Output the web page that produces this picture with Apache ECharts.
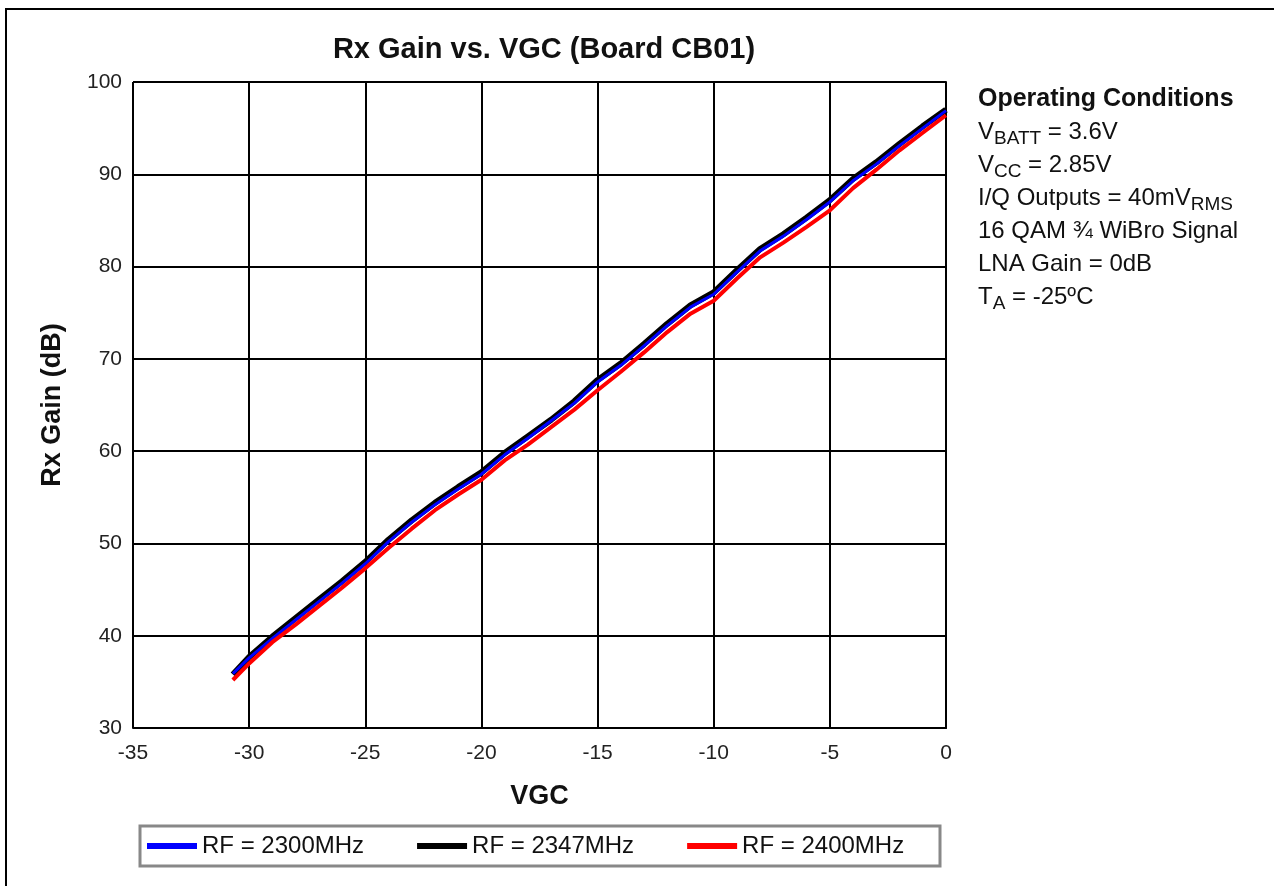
<!DOCTYPE html>
<html>
<head>
    <meta charset="utf-8">
    <title>Rx Gain vs. VGC</title>
    <script src="https://cdn.jsdelivr.net/npm/echarts@6/dist/echarts.min.js"></script>
    <style>
        html, body { margin: 0; padding: 0; background: #fff; }
        #main { width: 1274px; height: 886px; }
    </style>
</head>
<body>
<div id="main"></div>
<script>
    // VGC setting points
    var vgc = [-30.7, -30, -29, -28, -27, -26, -25, -24, -23, -22, -21, -20, -19, -18, -17, -16,
        -15, -14, -13, -12, -11, -10, -9, -8, -7, -6, -5, -4, -3, -2, -1, 0];

    // Rx gain (dB) per RF frequency
    var gain2300 = [35.9, 37.6, 39.7, 41.7, 43.7, 45.7, 47.8, 50.2, 52.3, 54.2, 55.9, 57.5, 59.6, 61.4,
        63.3, 65.2, 67.5, 69.3, 71.4, 73.6, 75.6, 77.0, 79.4, 81.7, 83.3, 85.1, 87.0, 89.3, 91.1, 93.1, 95.0, 96.9];
    var gain2347 = [35.8, 37.7, 39.9, 41.9, 43.9, 45.9, 48.0, 50.4, 52.5, 54.4, 56.1, 57.7, 59.8, 61.6,
        63.4, 65.4, 67.7, 69.5, 71.6, 73.8, 75.8, 77.2, 79.6, 81.9, 83.5, 85.3, 87.2, 89.5, 91.3, 93.3, 95.2, 97.0];
    var gain2400 = [35.2, 37.0, 39.3, 41.2, 43.2, 45.2, 47.3, 49.5, 51.6, 53.6, 55.3, 56.9, 59.0, 60.7,
        62.6, 64.5, 66.6, 68.6, 70.7, 72.9, 74.9, 76.3, 78.7, 81.0, 82.6, 84.3, 86.1, 88.5, 90.5, 92.6, 94.5, 96.4];

    var seriesNames = ['RF = 2300MHz', 'RF = 2347MHz', 'RF = 2400MHz'];
    var seriesColors = ['#0000ff', '#000000', '#ff0000'];

    var FONT = '"Liberation Sans", Arial, sans-serif';

    function pairs(ys) {
        return vgc.map(function (x, i) { return [x, ys[i]]; });
    }

    var chart = echarts.init(document.getElementById('main'));

    var condRich = {
        b: { fontFamily: FONT, fontSize: 25, fontWeight: 'bold', color: '#111' },
        n: { fontFamily: FONT, fontSize: 24, color: '#111' },
        s: { fontFamily: FONT, fontSize: 19, color: '#111', padding: [13, 0, 0, 0] }
    };

    var option = {
        backgroundColor: '#fff',
        animation: false,
        title: {
            text: 'Rx Gain vs. VGC (Board CB01)',
            left: 539,
            textAlign: 'center',
            top: 30,
            textStyle: { fontFamily: FONT, fontSize: 29, fontWeight: 'bold', color: '#111' }
        },
        grid: { left: 133, right: 328, top: 82, bottom: 158, containLabel: false },
        legend: {
            data: seriesNames,
            left: 147,
            top: 834,
            padding: 0,
            icon: 'rect',
            itemWidth: 50,
            itemHeight: 6,
            itemGap: 53,
            textStyle: { fontFamily: FONT, fontSize: 24, color: '#111' }
        },
        xAxis: {
            type: 'value',
            min: -35,
            max: 0,
            interval: 5,
            name: 'VGC',
            nameLocation: 'middle',
            nameGap: 55,
            nameTextStyle: { fontFamily: FONT, fontSize: 27, fontWeight: 'bold', color: '#111' },
            axisLine: { show: true, lineStyle: { color: '#000', width: 2 } },
            axisTick: { show: false },
            axisLabel: { fontFamily: FONT, fontSize: 21, color: '#222', margin: 15 },
            splitLine: { show: true, lineStyle: { color: '#000', width: 2 } }
        },
        yAxis: {
            type: 'value',
            min: 30,
            max: 100,
            interval: 10,
            name: 'Rx Gain (dB)',
            nameLocation: 'middle',
            nameGap: 67,
            nameTextStyle: { fontFamily: FONT, fontSize: 27, fontWeight: 'bold', color: '#111' },
            axisLine: { show: true, lineStyle: { color: '#000', width: 2 } },
            axisTick: { show: false },
            axisLabel: { fontFamily: FONT, fontSize: 21, color: '#222', margin: 11 },
            splitLine: { show: true, lineStyle: { color: '#000', width: 2 } }
        },
        series: [
            {
                name: seriesNames[1], type: 'line', data: pairs(gain2347), showSymbol: false,
                lineStyle: { color: seriesColors[1], width: 6 }, itemStyle: { color: seriesColors[1] }, z: 2
            },
            {
                name: seriesNames[0], type: 'line', data: pairs(gain2300), showSymbol: false,
                lineStyle: { color: seriesColors[0], width: 3 }, itemStyle: { color: seriesColors[0] }, z: 3
            },
            {
                name: seriesNames[2], type: 'line', data: pairs(gain2400), showSymbol: false,
                lineStyle: { color: seriesColors[2], width: 4 }, itemStyle: { color: seriesColors[2] }, z: 4
            }
        ],
        graphic: [
            {
                type: 'polyline',
                shape: { points: [[6, 886], [6, 9], [1274, 9]] },
                style: { stroke: '#000', lineWidth: 2, fill: null },
                silent: true
            },
            {
                type: 'rect',
                shape: { x: 140, y: 826, width: 800, height: 40 },
                style: { stroke: '#888', lineWidth: 3, fill: null },
                silent: true
            },
            {
                type: 'text',
                left: 978,
                top: 83,
                style: {
                    text: [
                        '{b|Operating Conditions}',
                        '{n|V}{s|BATT}{n| = 3.6V}',
                        '{n|V}{s|CC}{n| = 2.85V}',
                        '{n|I/Q Outputs = 40mV}{s|RMS}',
                        '{n|16 QAM ¾ WiBro Signal}',
                        '{n|LNA Gain = 0dB}',
                        '{n|T}{s|A}{n| = -25ºC}'
                    ].join('\n'),
                    rich: condRich,
                    lineHeight: 33,
                    fill: '#111'
                },
                silent: true
            }
        ]
    };

    chart.setOption(option);
</script>
</body>
</html>
